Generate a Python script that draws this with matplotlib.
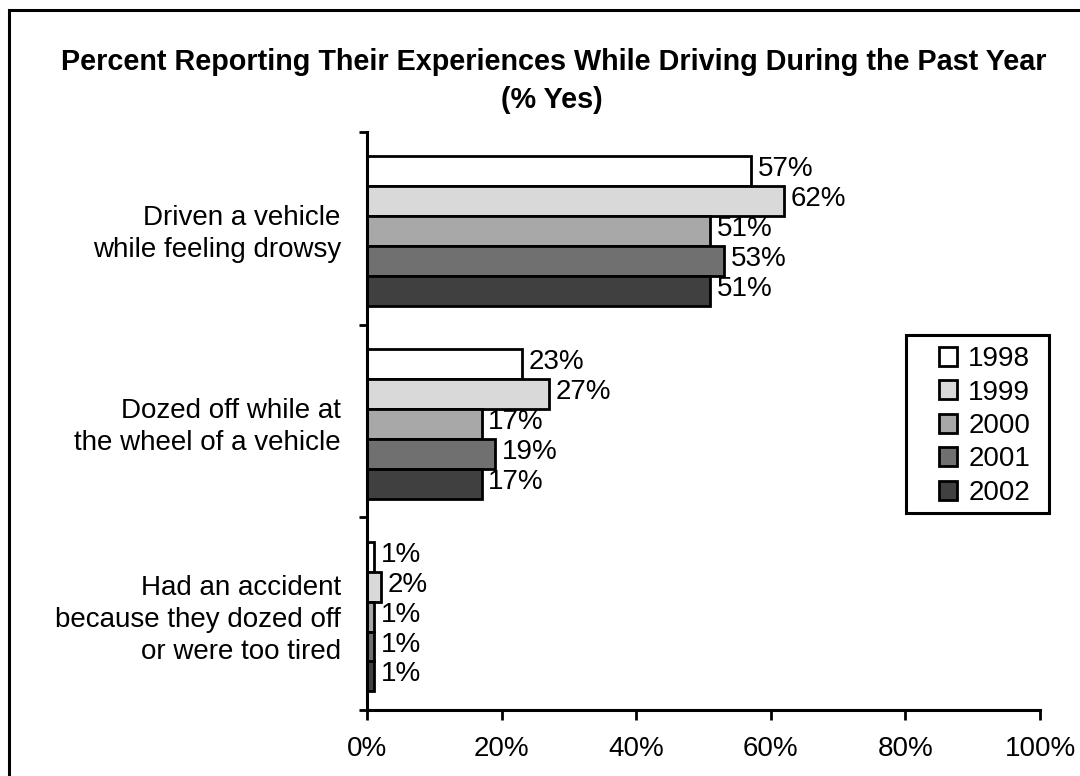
import matplotlib
matplotlib.use("Agg")
import matplotlib.pyplot as plt
from matplotlib.patches import Rectangle
import numpy as np

plt.rcParams["font.family"] = ["Liberation Sans", "DejaVu Sans"]

categories = [
    "Driven a vehicle\nwhile feeling drowsy",
    "Dozed off while at\nthe wheel of a vehicle",
    "Had an accident\nbecause they dozed off\nor were too tired",
]
years = ["1998", "1999", "2000", "2001", "2002"]
values = {
    "1998": [57, 23, 1],
    "1999": [62, 27, 2],
    "2000": [51, 17, 1],
    "2001": [53, 19, 1],
    "2002": [51, 17, 1],
}
colors = ["#ffffff", "#d9d9d9", "#a8a8a8", "#707070", "#404040"]
ticks = [0, 20, 40, 60, 80, 100]

FS = 20

fig = plt.figure(figsize=(10.8, 7.76), dpi=100)
ax = fig.add_axes([0.340, 0.085, 0.623, 0.745])

# outer frame running off the right and bottom edges
fig.patches.append(Rectangle((9 / 1080, -0.1), 1.2, 1 - 10 / 776 + 0.1,
                             transform=fig.transFigure, fill=False,
                             edgecolor="black", linewidth=2.2))

bar_h = 0.155
centers = np.arange(len(categories)) + 0.5
for i, (yr, col) in enumerate(zip(years, colors)):
    y = centers + (i - 2) * bar_h + 0.015
    vals = values[yr]
    ax.barh(y, vals, height=bar_h, color=col, edgecolor="black",
            linewidth=2, label=yr)
    for yy, v in zip(y, vals):
        ax.text(v + 1.0, yy - 0.01, f"{v}%", va="center", ha="left",
                fontsize=FS)

ax.set_xlim(0, 100)
ax.set_ylim(3, 0)
ax.set_xticks(ticks)
ax.set_xticklabels([f"{t}%" for t in ticks], fontsize=FS)
ax.set_yticks(centers)
ax.set_yticklabels(categories, fontsize=FS, ha="right", multialignment="right",
                   linespacing=1.3)
ax.set_yticks([0, 1, 2, 3], minor=True)
ax.tick_params(axis="y", which="major", length=0, pad=19)
ax.tick_params(axis="y", which="minor", length=6, width=2, direction="out")
ax.tick_params(axis="x", length=7, width=2, direction="out", pad=12)
for s in ("top", "right"):
    ax.spines[s].set_visible(False)
for s in ("left", "bottom"):
    ax.spines[s].set_linewidth(2.2)

# legend entries without their own frame, boxed by a separate rectangle
leg = fig.legend(loc="upper left", bbox_to_anchor=(939 / 1080, 1 - 346 / 776),
                 fontsize=FS, frameon=False,
                 handlelength=0.65, handleheight=0.65, handletextpad=0.4,
                 labelspacing=0.27, borderpad=0, borderaxespad=0)
for h in leg.legend_handles:
    h.set_linewidth(2)
fig.patches.append(Rectangle((906 / 1080, 1 - 513 / 776), 143 / 1080, 178 / 776,
                             transform=fig.transFigure, fill=False,
                             edgecolor="black", linewidth=2.2))

fig.text(0.513, 0.920, "Percent Reporting Their Experiences While Driving During the Past Year",
         ha="center", va="center", fontsize=20.7, fontweight="bold")
fig.text(0.511, 0.871, "(% Yes)", ha="center", va="center",
         fontsize=20.7, fontweight="bold")

fig.savefig("out.png", dpi=100, facecolor="white")
